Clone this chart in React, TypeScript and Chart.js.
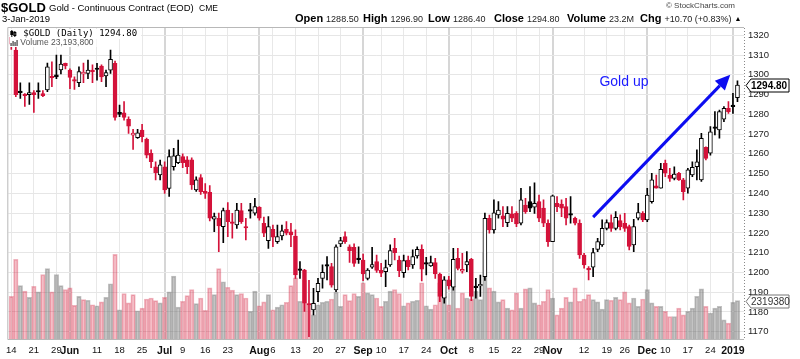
import React, { useEffect, useRef } from "react";
import { Chart, registerables } from "chart.js";
Chart.register(...registerables);

// ---- Data (trading-day index 0 = 14-May-2018 ... 161 = 3-Jan-2019) ----
const opens = [
  1319, 1312.5, 1291, 1290, 1290, 1291, 1291.3, 1290.5, 1292.3, 1299,
  1300, 1302.5, 1305.8, 1302.4, 1297.5, 1296, 1300.5, 1300.7, 1301.6, 1302.7,
  1304.4, 1299.4, 1302.4, 1305.8, 1281, 1280.8, 1277.5, 1269.5, 1268.2, 1272,
  1267.3, 1260.3, 1253.5, 1249.3, 1253.5, 1242.5, 1253.5, 1255.5, 1258.6, 1257,
  1257, 1241.7, 1248, 1241, 1240.5, 1227, 1227.4, 1223.2, 1231.6, 1224.8,
  1224, 1231.3, 1222.8, 1231, 1230, 1233, 1224.8, 1216.1, 1221.8, 1215.6,
  1218.5, 1221.8, 1220.6, 1218.4, 1201, 1201.2, 1183.5, 1181, 1190.3, 1197,
  1203.2, 1202.9, 1191.1, 1214.4, 1218.1, 1213, 1212.7, 1206.5, 1206.3, 1197,
  1202.6, 1205.5, 1201, 1200.4, 1203.8, 1212.2, 1206.3, 1199.9, 1206.3, 1203.8,
  1208.4, 1211.7, 1204.2, 1203.3, 1205, 1199.2, 1187, 1196.2, 1192.5, 1207.1,
  1200.6, 1203.8, 1206.6, 1192.3, 1193.2, 1197.9, 1227.4, 1221.5, 1229.1, 1228.6,
  1225.2, 1229.6, 1229.9, 1224.9, 1234.1, 1235.8, 1233, 1235.8, 1232.5, 1224.9,
  1215.6, 1235, 1234.6, 1233.3, 1229, 1227.4, 1224.9, 1208.8, 1201.6, 1202.6,
  1211.7, 1213.9, 1222.3, 1225.2, 1222.3, 1226.2, 1224.9, 1223.2, 1213.9, 1227.4,
  1229.9, 1226.6, 1235.8, 1243.8, 1242.6, 1255.2, 1249.3, 1247.6, 1250.2, 1246.8,
  1242.6, 1249.3, 1253.5, 1246.8, 1263.3, 1260.3, 1272.9, 1272.1, 1277.5, 1283,
  1283.9, 1288.5,
];
const highs = [
  1321.5, 1314.6, 1296, 1290.5, 1296, 1292, 1296, 1292, 1306, 1306.6,
  1310, 1310, 1306, 1303, 1299, 1304, 1306, 1307.5, 1305, 1305.8,
  1305, 1302.4, 1312.5, 1307, 1284.7, 1286.4, 1278.8, 1272.4, 1272.4, 1275,
  1268, 1262, 1256, 1256.9, 1256, 1262, 1262.8, 1267, 1260, 1258.6,
  1258, 1248.4, 1249.5, 1245, 1244, 1230, 1230, 1232.5, 1235.3, 1229.9,
  1235, 1235, 1227.4, 1235, 1237.5, 1233.3, 1228, 1228.2, 1224, 1224,
  1224, 1225.7, 1224.8, 1221.5, 1205.5, 1201.5, 1196, 1192, 1197, 1203.8,
  1208, 1204.6, 1214, 1217.8, 1220.6, 1214, 1214.5, 1213, 1209.3, 1202,
  1212.7, 1208.8, 1204.6, 1206.3, 1214, 1217.2, 1208.3, 1208.8, 1208.3, 1211.4,
  1213, 1213.9, 1207.6, 1208.3, 1207.1, 1199.6, 1197.9, 1198, 1212.2, 1212.2,
  1209.6, 1210.5, 1207.1, 1197, 1198.7, 1230, 1229, 1236.7, 1235.8, 1233.3,
  1233.3, 1233.3, 1230.8, 1242.6, 1237.5, 1243.4, 1245.4, 1239.2, 1236.7, 1226.6,
  1239.2, 1238.4, 1236.7, 1237.5, 1238.4, 1228, 1226.6, 1209.6, 1203, 1212.2,
  1217.3, 1226.6, 1226.6, 1229.1, 1230.8, 1229.1, 1229.9, 1224, 1226.9, 1235,
  1230.8, 1242.6, 1250.2, 1249.3, 1255.2, 1256.9, 1252.7, 1253.5, 1250.6, 1247.6,
  1252.7, 1256, 1262, 1270.4, 1263.6, 1273.8, 1281.4, 1282.2, 1283.9, 1286.4,
  1290.6, 1296.9,
];
const lows = [
  1312.8, 1289, 1288, 1284, 1285, 1281, 1288, 1289, 1291.5, 1294,
  1298, 1300.5, 1303, 1293, 1292.6, 1294, 1296, 1298, 1296, 1297.3,
  1296.5, 1294, 1300.7, 1277, 1278.8, 1277.1, 1270.4, 1262.3, 1267.8, 1266,
  1258, 1253, 1246.8, 1246.8, 1240, 1238.5, 1251.8, 1255, 1253, 1250,
  1242, 1241, 1239.5, 1237.5, 1226, 1220.6, 1210.5, 1215, 1218.1, 1217.3,
  1222.3, 1224.8, 1216.4, 1227.4, 1229, 1226.5, 1218.1, 1212.2, 1213, 1214.7,
  1216.4, 1219, 1213, 1197, 1197, 1180.2, 1167.5, 1178.5, 1185.2, 1192,
  1196.2, 1192.5, 1190.3, 1213, 1214.7, 1205, 1203, 1204.6, 1195.8, 1196.2,
  1202, 1200, 1197.9, 1192.8, 1203, 1206.3, 1197.9, 1197.5, 1201.2, 1202,
  1207.2, 1195.7, 1198.7, 1203, 1197, 1185.2, 1184.4, 1191.5, 1191, 1201.2,
  1199.6, 1200.4, 1185.7, 1187, 1187.8, 1196, 1219.8, 1219.8, 1227.4, 1223.2,
  1223.2, 1225.7, 1223.2, 1224, 1229.9, 1230.8, 1229.9, 1225.7, 1223.2, 1213.1,
  1215.6, 1230.8, 1228.2, 1224, 1224.9, 1224, 1207.1, 1202.1, 1196.2, 1197.9,
  1210.5, 1213.1, 1221.5, 1220.7, 1221.5, 1221.5, 1220.7, 1211.4, 1210.5, 1226.6,
  1225.7, 1225.7, 1235, 1242.6, 1242.6, 1248.5, 1246, 1246.8, 1246.5, 1236.7,
  1240.1, 1248.5, 1246.8, 1246, 1256.9, 1259.4, 1269.6, 1267.9, 1276.3, 1280.5,
  1280.5, 1286.4,
];
const closes = [
  1315.5, 1290, 1291.5, 1289.5, 1291, 1290, 1291.6, 1289.5, 1304, 1298.5,
  1299, 1305.5, 1304.5, 1298.7, 1296.8, 1301.6, 1301.3, 1302.4, 1302, 1302.8,
  1299, 1301.1, 1307.8, 1278.5, 1280, 1278.5, 1274, 1270.5, 1270.7, 1268.7,
  1259.4, 1256, 1250.5, 1254.4, 1241.7, 1258.6, 1259, 1259.4, 1255.5, 1253.5,
  1244.3, 1246.8, 1240.9, 1240, 1227.4, 1228.2, 1223.5, 1231.3, 1225.7, 1225.4,
  1231.6, 1225.7, 1222.5, 1231.3, 1233.3, 1227.4, 1219.8, 1223.2, 1217.8, 1218.1,
  1221.1, 1219.8, 1219, 1198.7, 1201.2, 1184.4, 1183.8, 1184.4, 1194.5, 1200,
  1203.5, 1193.6, 1213, 1216.1, 1215.6, 1211, 1204.6, 1206.7, 1199.2, 1201.2,
  1204, 1201, 1199.6, 1202.4, 1211, 1210, 1200.9, 1206, 1202.9, 1208,
  1211.7, 1201.6, 1204.4, 1205, 1199.2, 1187.8, 1196.2, 1193.2, 1206.6, 1202,
  1201.6, 1205.5, 1187.8, 1192.5, 1194, 1227.4, 1221.5, 1230.2, 1231.6, 1226.9,
  1229.9, 1227.4, 1224.5, 1236.7, 1230.8, 1232.5, 1235, 1227.4, 1224.9, 1215.6,
  1238.7, 1233.3, 1232.5, 1227.4, 1229.2, 1224.9, 1208.8, 1203.8, 1201.3, 1210,
  1215.6, 1222.3, 1225.2, 1222.3, 1227.9, 1223.2, 1222.3, 1213.1, 1223.2, 1230.3,
  1226.6, 1239.2, 1246.8, 1242.6, 1252.2, 1250.2, 1247.6, 1249.8, 1246.8, 1240.9,
  1251.9, 1253.2, 1256, 1267.9, 1257.7, 1271.2, 1273, 1281.4, 1283, 1281.4,
  1284.1, 1294.8,
];
// volume in millions of contracts
const volumes = [
  25.8, 48.2, 32.3, 28.9, 25.2, 31.9, 28.5, 39.0, 42.5, 28.5,
  39.0, 32.3, 29.9, 30.9, 20.3, 25.8, 23.8, 23.4, 20.7, 20.1,
  22.4, 25.2, 33.4, 51.2, 17.7, 27.5, 21.8, 26.8, 17.1, 18.7,
  24.2, 24.8, 23.2, 21.8, 25.2, 28.5, 38.0, 19.3, 22.8, 26.2,
  29.9, 21.4, 24.8, 17.3, 30.9, 26.8, 42.5, 34.6, 31.3, 29.5,
  26.8, 27.5, 24.8, 16.7, 28.9, 20.1, 22.4, 26.8, 17.7, 19.3,
  20.7, 22.2, 32.3, 37.0, 22.8, 35.6, 21.4, 14.6, 20.7, 22.2,
  22.8, 24.2, 28.3, 19.7, 26.8, 23.2, 27.5, 25.8, 34.0, 27.9,
  26.8, 24.8, 19.7, 22.8, 28.9, 29.9, 27.5, 20.1, 21.8, 22.8,
  23.4, 34.0, 20.1, 18.1, 20.7, 34.0, 25.8, 20.7, 31.9, 18.7,
  27.9, 24.8, 24.2, 28.9, 23.8, 52.3, 30.9, 28.9, 22.4, 23.8,
  18.7, 17.7, 27.9, 18.7, 30.3, 30.9, 21.8, 20.7, 22.8, 29.9,
  24.8, 14.6, 18.7, 25.2, 22.4, 30.9, 22.8, 24.2, 26.8, 23.8,
  22.4, 18.1, 23.8, 23.4, 25.2, 23.8, 28.5, 21.8, 24.8, 19.7,
  24.2, 29.9, 21.8, 19.7, 19.7, 16.7, 13.6, 13.6, 18.7, 14.6,
  16.7, 18.7, 25.8, 30.3, 19.7, 15.7, 18.7, 19.7, 11.6, 9.6,
  22.2, 23.1938,
];

// x-axis ticks (trading-day index) and their labels
const tickDays = [0, 5, 10, 13, 19, 24, 29, 34, 38, 43, 48, 55, 58, 63, 68, 73, 78, 82, 87, 92, 97, 102, 107, 112, 117, 120, 127, 132, 136, 141, 145, 150, 155, 160];
const tickLabels = ["14", "21", "29", "Jun", "11", "18", "25", "Jul", "9", "16", "23", "Aug", "6", "13", "20", "27", "Sep", "10", "17", "24", "Oct", "8", "15", "22", "29", "Nov", "12", "19", "26", "Dec", "10", "17", "24", "2019"];
const priceTicks = [1170, 1180, 1190, 1200, 1210, 1220, 1230, 1240, 1250, 1260, 1270, 1280, 1290, 1300, 1310, 1320];

// annotation (data coordinates)
const noteText = "Gold up";
const notePos = { x: 130.4, y: 1296.4 };
const arrowFrom = { x: 129, y: 1228 };
const arrowTo = { x: 159.4, y: 1300 };

const FONT = '"Liberation Sans", Arial, Helvetica, sans-serif';
const RED = "rgb(212,18,58)";
const BLACK = "#000";

function isBoldTick(v: number) {
  const k = tickDays.indexOf(v);
  return k >= 0 && tickLabels[k].length > 2;
}

export default function App() {
  const ref = useRef<HTMLCanvasElement>(null);

  useEffect(() => {
    const n = closes.length;
    const last = n - 1;
    const up = closes.map((c, i) => (i === 0 ? c >= opens[i] : c >= closes[i - 1]));
    const col = up.map((u) => (u ? BLACK : RED));
    const tiny = closes.map((c, i) => Math.abs(c - opens[i]) < 0.7);
    const hollow = closes.map((c, i) => c > opens[i]);

    const overlay = {
      id: "overlay",
      afterDraw(chart: any) {
        const ctx = chart.ctx as CanvasRenderingContext2D;
        const area = chart.chartArea;
        const xs = chart.scales.x;
        const ys = chart.scales.y;
        const yv = chart.scales.yv;
        ctx.save();

        // frame
        ctx.strokeStyle = "#b8b8b8";
        ctx.lineWidth = 1;
        ctx.beginPath();
        ctx.moveTo(area.left - 0.5, area.top - 0.5);
        ctx.lineTo(area.right, area.top - 0.5);
        ctx.moveTo(area.left - 0.5, area.top - 0.5);
        ctx.lineTo(area.left - 0.5, area.bottom + 0.5);
        ctx.lineTo(area.right, area.bottom + 0.5);
        ctx.stroke();
        ctx.setLineDash([1, 2]);
        ctx.strokeStyle = "#888";
        ctx.beginPath();
        ctx.moveTo(area.right + 0.5, area.top);
        ctx.lineTo(area.right + 0.5, area.bottom);
        ctx.stroke();
        ctx.setLineDash([]);

        // in-chart legend
        ctx.textBaseline = "middle";
        ctx.textAlign = "left";
        ctx.font = `9px "DejaVu Sans Mono", monospace`;
        const l1 = `$GOLD (Daily) ${closes[last].toFixed(2)}`;
        const w1 = ctx.measureText(l1).width;
        ctx.fillStyle = "#fff";
        ctx.fillRect(area.left + 1, area.top + 1, w1 + 18, 10);
        ctx.font = `8.5px ${FONT}`;
        const l2 = `Volume ${Math.round(volumes[last] * 1e6).toLocaleString("en-US")}`;
        const w2 = ctx.measureText(l2).width;
        ctx.fillRect(area.left + 1, area.top + 11, w2 + 14, 8);
        // icons
        ctx.fillStyle = "#000";
        ctx.fillRect(area.left + 3, area.top + 2, 1, 7);
        ctx.fillRect(area.left + 2, area.top + 3, 3, 4);
        ctx.fillRect(area.left + 6, area.top + 3, 1, 6);
        ctx.strokeStyle = "#000";
        ctx.strokeRect(area.left + 5.5, area.top + 4.5, 2, 3);
        ctx.fillStyle = "#666";
        ctx.fillRect(area.left + 2, area.top + 15, 1.5, 3);
        ctx.fillRect(area.left + 4, area.top + 13, 1.5, 5);
        ctx.fillRect(area.left + 6, area.top + 14, 1.5, 4);
        ctx.fillRect(area.left + 8, area.top + 12, 1.5, 6);
        ctx.fillStyle = "#000";
        ctx.font = `9px "DejaVu Sans Mono", monospace`;
        ctx.fillText(l1, area.left + 15, area.top + 5.5);
        ctx.fillStyle = "#555";
        ctx.font = `8.5px ${FONT}`;
        ctx.fillText(l2, area.left + 12, area.top + 15);

        // header line 1
        ctx.fillStyle = "#000";
        ctx.font = `bold 13px ${FONT}`;
        ctx.fillText("$GOLD", 1, 8);
        ctx.font = `9.5px ${FONT}`;
        ctx.fillText("Gold - Continuous Contract (EOD)", 49, 8);
        ctx.font = `8.5px ${FONT}`;
        ctx.fillText("CME", 199, 8.5);
        ctx.fillStyle = "#444";
        ctx.font = `8px ${FONT}`;
        ctx.textAlign = "right";
        ctx.fillText("\u00A9 StockCharts.com", 735, 6);
        ctx.textAlign = "left";
        // header line 2
        ctx.fillStyle = "#000";
        ctx.font = `9.5px ${FONT}`;
        ctx.fillText("3-Jan-2019", 2, 19);
        const chg = closes[last] - closes[last - 1];
        const pct = (chg / closes[last - 1]) * 100;
        const sign = chg >= 0 ? "+" : "";
        const items: [string, string, number][] = [
          ["Open", opens[last].toFixed(2), 295],
          ["High", highs[last].toFixed(2), 363],
          ["Low", lows[last].toFixed(2), 428],
          ["Close", closes[last].toFixed(2), 494],
          ["Volume", `${volumes[last].toFixed(1)}M`, 567],
          ["Chg", `${sign}${chg.toFixed(2)} (${sign}${pct.toFixed(2)}%)`, 640],
        ];
        let endX = 0;
        items.forEach(([lab, val, x0]) => {
          ctx.font = `bold 11px ${FONT}`;
          ctx.fillStyle = "#000";
          ctx.fillText(lab, x0, 19);
          const wl = ctx.measureText(lab).width;
          ctx.font = `9px ${FONT}`;
          ctx.fillStyle = "#222";
          ctx.fillText(val, x0 + wl + 3, 19.5);
          endX = x0 + wl + 3 + ctx.measureText(val).width;
        });
        ctx.fillStyle = "#000";
        ctx.font = `7px ${FONT}`;
        ctx.fillText("\u25B2", endX + 3, 19);

        // annotation text + arrow
        ctx.fillStyle = "#1a1aff";
        ctx.font = `14px ${FONT}`;
        ctx.fillText(noteText, xs.getPixelForValue(notePos.x), ys.getPixelForValue(notePos.y));
        const ax0 = xs.getPixelForValue(arrowFrom.x);
        const ay0 = ys.getPixelForValue(arrowFrom.y);
        const ax1 = xs.getPixelForValue(arrowTo.x);
        const ay1 = ys.getPixelForValue(arrowTo.y);
        const ang = Math.atan2(ay1 - ay0, ax1 - ax0);
        const headLen = 15;
        const headW = 7;
        const bx = ax1 - headLen * Math.cos(ang);
        const by = ay1 - headLen * Math.sin(ang);
        ctx.strokeStyle = "#0d0df0";
        ctx.lineWidth = 3;
        ctx.beginPath();
        ctx.moveTo(ax0, ay0);
        ctx.lineTo(bx, by);
        ctx.stroke();
        ctx.fillStyle = "#0d0df0";
        ctx.beginPath();
        ctx.moveTo(ax1, ay1);
        ctx.lineTo(bx + headW * Math.sin(ang), by - headW * Math.cos(ang));
        ctx.lineTo(bx - headW * Math.sin(ang), by + headW * Math.cos(ang));
        ctx.closePath();
        ctx.fill();

        // value tags on the right axis
        const tag = (y: number, text: string, stroke: string, font: string, color: string) => {
          const x = area.right + 2;
          const h = 13;
          const w = 43;
          ctx.beginPath();
          ctx.moveTo(x, y);
          ctx.lineTo(x + 5, y - h / 2);
          ctx.lineTo(x + w, y - h / 2);
          ctx.lineTo(x + w, y + h / 2);
          ctx.lineTo(x + 5, y + h / 2);
          ctx.closePath();
          ctx.fillStyle = "#fff";
          ctx.fill();
          ctx.strokeStyle = stroke;
          ctx.lineWidth = 1;
          ctx.stroke();
          ctx.fillStyle = color;
          ctx.font = font;
          ctx.textAlign = "left";
          ctx.fillText(text, x + 5, y + 0.5);
        };
        tag(Math.round(ys.getPixelForValue(closes[last])) + 0.5, closes[last].toFixed(2), "#000", `bold 10px ${FONT}`, "#000");
        tag(Math.round(yv.getPixelForValue(volumes[last])) + 0.5, String(Math.round(volumes[last] * 1e5)), "#777", `10px ${FONT}`, "#333");

        ctx.restore();
      },
    };

    const chart = new Chart(ref.current as HTMLCanvasElement, {
      type: "bar",
      data: {
        datasets: [
          {
            label: "body",
            data: opens.map((o, i) => ({ x: i, y: [Math.min(o, closes[i]), Math.max(o, closes[i])] })) as any,
            backgroundColor: col.map((c, i) => (hollow[i] && !tiny[i] ? "#fff" : c)),
            borderColor: col,
            borderWidth: 1,
            borderSkipped: false,
            barThickness: 4,
            minBarLength: 1.5,
            grouped: false,
            order: 1,
            yAxisID: "y",
          } as any,
          {
            label: "wick",
            data: highs.map((h, i) => ({ x: i, y: [lows[i], h] })) as any,
            backgroundColor: col,
            borderWidth: 0,
            barThickness: 1,
            grouped: false,
            order: 2,
            yAxisID: "y",
          } as any,
          {
            label: "volume",
            data: volumes.map((v, i) => ({ x: i, y: v })) as any,
            backgroundColor: up.map((u) => (u ? "rgba(125,125,125,0.45)" : "rgba(220,40,70,0.3)")),
            borderColor: up.map((u) => (u ? "rgba(100,100,100,0.4)" : "rgba(210,40,70,0.35)")),
            borderWidth: 1,
            barThickness: 4.5,
            grouped: false,
            order: 3,
            yAxisID: "yv",
          } as any,
        ],
      },
      options: {
        animation: false,
        responsive: false,
        maintainAspectRatio: false,
        layout: { padding: { top: 28, left: 5, right: 0, bottom: 0 } },
        plugins: { legend: { display: false }, tooltip: { enabled: false } },
        scales: {
          x: {
            type: "linear",
            min: -0.66,
            max: 162.45,
            offset: false,
            afterBuildTicks: (s: any) => {
              s.ticks = tickDays.map((v) => ({ value: v }));
            },
            afterFit: (s: any) => {
              s.height = 20;
            },
            ticks: {
              autoSkip: false,
              maxRotation: 0,
              minRotation: 0,
              padding: 6,
              color: "#111",
              callback: (v: any) => {
                const k = tickDays.indexOf(Number(v));
                return k >= 0 ? tickLabels[k] : "";
              },
              font: (ctx: any) => {
                const b = ctx.tick ? isBoldTick(ctx.tick.value) : false;
                return { family: FONT, size: b ? 10.5 : 9.5, weight: b ? "bold" : "normal" };
              },
            },
            grid: {
              offset: false,
              drawTicks: false,
              color: (ctx: any) => (ctx.tick && isBoldTick(ctx.tick.value) ? "#d6d6d6" : "#e8e8e8"),
              lineWidth: (ctx: any) => (ctx.tick && isBoldTick(ctx.tick.value) ? 2 : 1),
            },
            border: { display: false },
          } as any,
          y: {
            position: "right",
            min: 1166.3,
            max: 1323.7,
            afterBuildTicks: (s: any) => {
              s.ticks = priceTicks.map((v) => ({ value: v }));
            },
            afterFit: (s: any) => {
              s.width = 56;
            },
            ticks: {
              padding: 4,
              color: "#222",
              font: { family: FONT, size: 9.5 },
              callback: (v: any) => String(v),
            },
            grid: { color: "#e6e6e6", drawTicks: false },
            border: { display: false },
          } as any,
          yv: {
            display: false,
            min: 0,
            max: 188,
          } as any,
        },
      },
      plugins: [overlay],
    });
    return () => chart.destroy();
  }, []);

  return (
    <div style={{ position: "absolute", left: 0, top: 0, width: 800, height: 359, background: "#fff" }}>
      <canvas ref={ref} width={800} height={359} style={{ display: "block" }} />
    </div>
  );
}
